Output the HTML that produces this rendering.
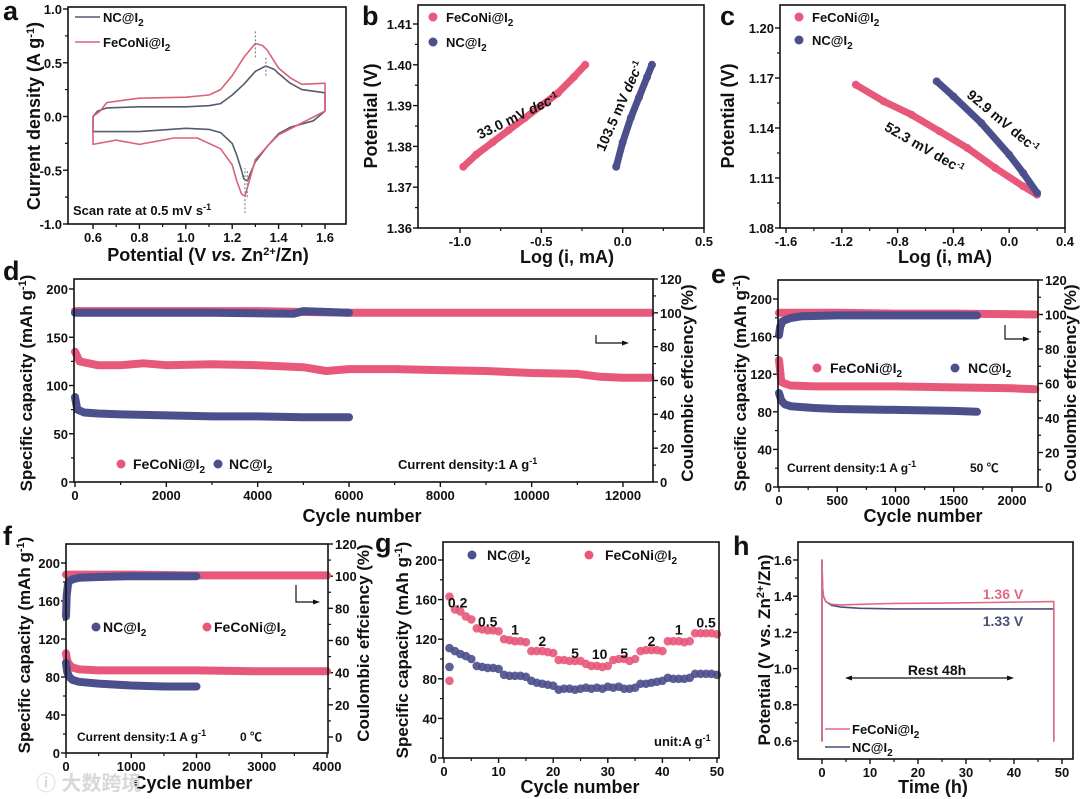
<!DOCTYPE html>
<html><head><meta charset="utf-8"><style>
body{margin:0;background:#fff;}
svg{display:block;font-family:"Liberation Sans","Noto Sans CJK SC",sans-serif;}
text{font-weight:bold;}
</style></head><body>
<svg id="fig" width="1080" height="799" viewBox="0 0 1080 799" xmlns="http://www.w3.org/2000/svg"></svg>
<script>
// ---------- data ----------
const aPotNC=[0.6,0.62,0.66,0.8,1.0,1.1,1.15,1.2,1.25,1.3,1.345,1.38,1.4,1.45,1.5,1.6,1.6,1.55,1.45,1.4,1.35,1.3,1.28,1.265,1.25,1.24,1.22,1.2,1.15,1.1,1.0,0.8,0.65,0.6,0.6];
const aCurNC=[0.0,0.05,0.08,0.09,0.09,0.10,0.12,0.20,0.30,0.42,0.47,0.44,0.40,0.31,0.25,0.22,0.05,-0.04,-0.10,-0.16,-0.28,-0.42,-0.52,-0.60,-0.58,-0.50,-0.36,-0.25,-0.15,-0.12,-0.11,-0.14,-0.14,-0.14,0.0];
const aPotFe=[0.6,0.6,0.63,0.66,0.8,1.0,1.1,1.15,1.2,1.25,1.3,1.33,1.35,1.4,1.45,1.5,1.6,1.6,1.5,1.4,1.35,1.3,1.28,1.255,1.24,1.22,1.2,1.15,1.05,0.95,0.8,0.7,0.6];
const aCurFe=[-0.26,0.0,0.05,0.13,0.17,0.18,0.20,0.25,0.38,0.55,0.68,0.66,0.62,0.45,0.36,0.30,0.31,0.05,-0.06,-0.17,-0.28,-0.40,-0.55,-0.74,-0.72,-0.60,-0.45,-0.30,-0.20,-0.20,-0.26,-0.22,-0.26];
const bLogFe=[-0.98,-0.9,-0.8,-0.7,-0.6,-0.5,-0.4,-0.3,-0.23];
const bPotFe=[1.375,1.378,1.381,1.384,1.387,1.390,1.393,1.397,1.400];
const bLogNC=[-0.04,0.0,0.05,0.1,0.15,0.18];
const bPotNC=[1.375,1.381,1.387,1.392,1.397,1.400];
const cLogFe=[-1.1,-0.9,-0.7,-0.5,-0.3,-0.1,0.1,0.2];
const cPotFe=[1.166,1.156,1.148,1.138,1.128,1.116,1.105,1.100];
const cLogNC=[-0.52,-0.4,-0.2,0.0,0.1,0.2];
const cPotNC=[1.168,1.159,1.143,1.124,1.113,1.101];
const dCycFe=[0,100,500,1000,1500,2000,3000,4000,5000,5500,6000,7000,8000,9000,10000,11000,11500,12000,12600];
const dCapFe=[135,125,121,121,123,121,122,121,119,115,117,117,116,115,113,112,109,108,108];
const dCycNC=[0,50,200,500,1000,2000,3000,4000,5000,6000];
const dCapNC=[88,75,72,71,70,69,68,68,67,67];
const dCeCycFe=[0,2000,4000,6000,8000,10000,12600];
const dCeFe=[101,101,101,100,100,100,100];
const dCeCycNC=[0,1000,3000,4800,5000,6000];
const dCeNC=[100,100,100,99.5,101,100];
const eCycFe=[0,20,50,100,300,500,1000,1500,2000,2200];
const eCapFe=[135,112,110,108,107,107,107,106,105,104];
const eCycNC=[0,20,50,100,300,500,1000,1500,1700];
const eCapNC=[100,92,88,86,84,83,82,81,80];
const eCeCycFe=[0,500,1000,1500,2200];
const eCeFe=[101,101,100.5,100.5,100];
const eCeCycNC=[0,10,30,60,100,200,500,1000,1700];
const eCeNC=[88,93,96,97,98,99,99.5,99.5,99.5];
const fCycFe=[0,20,50,100,200,500,1000,2000,3000,4000];
const fCapFe=[105,97,93,90,88,87,87,87,86,86];
const fCycNC=[0,20,50,100,200,500,1000,1500,2000];
const fCapNC=[95,85,80,77,75,73,71,70,70];
const fCeCycFe=[0,1000,2000,3000,4000];
const fCeFe=[101,101,100.5,100.5,100.5];
const fCeCycNC=[0,10,30,50,100,200,500,1000,2000];
const fCeNC=[75,88,95,97,98,99,99.5,100,100];
const gCycles=[1,2,3,4,5,6,7,8,9,10,11,12,13,14,15,16,17,18,19,20,21,22,23,24,25,26,27,28,29,30,31,32,33,34,35,36,37,38,39,40,41,42,43,44,45,46,47,48,49,50];
const gFe=[163,150,148,143,140,131,130,129,129,128,120,119,118,118,117,108,108,108,107,106,99,99,98,98,98,95,93,93,92,93,99,100,100,98,100,108,109,109,109,108,118,118,118,117,118,126,126,126,126,125];
const gNC=[111,108,105,103,100,93,92,91,91,90,84,83,83,83,82,78,76,75,74,73,69,70,70,69,70,71,70,71,70,72,71,72,70,70,71,75,75,76,77,78,81,80,80,80,81,85,85,85,85,84];
const gFirstFe=[78];
const gFirstNC=[92];
const gRateLabels=["0.2","0.5","1","2","5","10","5","2","1","0.5"];
const gRateX=[2.5,8,13,18,24,28.5,33,38,43,48];
const gRateY=[152,133,125,113,101,100,101,113,125,132];
const hTime=[0,0,0.1,0.3,0.8,2,4,8,15,25,35,48,48.3,48.3];
const hFe=[0.6,1.6,1.45,1.40,1.37,1.355,1.352,1.355,1.36,1.362,1.365,1.37,1.37,0.6];
const hNC=[0.6,1.6,1.45,1.40,1.37,1.35,1.34,1.333,1.33,1.33,1.33,1.33,1.33,0.6];

// ---------- helpers ----------
const NS='http://www.w3.org/2000/svg';
const svg=document.getElementById('fig');
const PINK='#e8587a', BLUE='#4b4f8c';
const TF=13;
function el(tag,attrs,name){
  const e=document.createElementNS(NS,tag);
  for(const k in attrs) e.setAttribute(k,attrs[k]);
  
  
  svg.appendChild(e);
  return e;
}
function txt(x,y,html,size,name,anchor,rot,fill){
  const a={x:x,y:y,'font-size':size,'text-anchor':anchor||'start',fill:fill||'#111'};
  if(rot) a.transform='rotate('+rot+' '+x+' '+y+')';
  const t=el('text',a,name);
  t.innerHTML=html;
  return t;
}
function lin(d0,d1,r0,r1){return v=>r0+(v-d0)/(d1-d0)*(r1-r0);}
function frame(p,fr){
  el('rect',{x:fr[0],y:fr[1],width:fr[2]-fr[0],height:fr[3]-fr[1],fill:'none',stroke:'#111','stroke-width':1.6},p+'-frame');
}
function xTicks(p,fr,sx,vals,labels){
  vals.forEach((v,i)=>{
    const x=sx(v);
    el('line',{x1:x,x2:x,y1:fr[3],y2:fr[3]+5,stroke:'#111','stroke-width':1.4},p+'-x-tick');
    txt(x,fr[3]+18,labels[i],TF,p+'-x-tick-label','middle');
    if(i<vals.length-1){const xm=sx((v+vals[i+1])/2);
      el('line',{x1:xm,x2:xm,y1:fr[3],y2:fr[3]+3,stroke:'#111','stroke-width':1.2},p+'-x-minor-tick');}
  });
}
function yTicks(p,fr,sy,vals,labels,right){
  vals.forEach((v,i)=>{
    const y=sy(v);
    const x0=right?fr[2]:fr[0], d=right?5:-5;
    el('line',{x1:x0,x2:x0+d,y1:y,y2:y,stroke:'#111','stroke-width':1.4},p+'-y-tick');
    txt(right?x0+7:x0-6,y+5,labels[i],TF,p+(right?'-y2-tick-label':'-y-tick-label'),right?'start':'end');
    if(i<vals.length-1){const ym=sy((v+vals[i+1])/2);
      el('line',{x1:x0,x2:x0+d*0.6,y1:ym,y2:ym,stroke:'#111','stroke-width':1.2},p+'-y-minor-tick');}
  });
}
function poly(xs,ys,sx,sy,color,w,name){
  const pts=xs.map((x,i)=>sx(x).toFixed(1)+','+sy(ys[i]).toFixed(1)).join(' ');
  return el('polyline',{points:pts,fill:'none',stroke:color,'stroke-width':w,'stroke-linejoin':'round','stroke-linecap':'round'},name);
}
function dots(xs,ys,sx,sy,color,r,name){
  xs.forEach((x,i)=>{el('circle',{cx:sx(x),cy:sy(ys[i]),r:r,fill:color,opacity:0.9},name);});
}
const SUB2='<tspan dy="4" font-size="10">2</tspan>';
const lab=(n)=>n+'@I'+SUB2;
function arrowR(p,x,y1,y2,x2){
  el('polyline',{points:x+','+y1+' '+x+','+y2+' '+x2+','+y2,fill:'none',stroke:'#111','stroke-width':1.2},p+'-axis-arrow');
  el('polygon',{points:(x2+4)+','+y2+' '+(x2-3)+','+(y2-2.5)+' '+(x2-3)+','+(y2+2.5),fill:'#111'},p+'-axis-arrowhead');
}
function range(a,b,s){const r=[];for(let v=a;v<=b+1e-9;v+=s)r.push(+v.toFixed(4));return r;}

// ---------- panel a ----------
(function(){
  const fr=[68,7,346,224], sx=lin(0.6,1.6,93,325), sy=lin(-1,1,224,9);
  const xv=range(0.6,1.6,0.2); xTicks('a',fr,sx,xv,xv.map(v=>v.toFixed(1)));
  const yv=[-1,-0.5,0,0.5,1]; yTicks('a',fr,sy,yv,yv.map(v=>v.toFixed(1)));
  poly(aPotNC,aCurNC,sx,sy,'#555b70',1.6,'nc-cv-curve');
  poly(aPotFe,aCurFe,sx,sy,'#d9627a',1.6,'feconi-cv-curve');
  [[1.30,0.55,0.80],[1.345,0.38,0.55],[1.255,-0.9,-0.48],[1.265,-0.75,-0.5]].forEach(d=>{
    el('line',{x1:sx(d[0]),x2:sx(d[0]),y1:sy(d[1]),y2:sy(d[2]),stroke:'#888','stroke-width':1.2,'stroke-dasharray':'2,2'},'peak-marker');
  });
  frame('a',fr);
  el('line',{x1:75,x2:100,y1:17,y2:17,stroke:'#555b70','stroke-width':1.6},'legend-nc-line');
  txt(103,22,lab('NC'),13,'legend-nc-label');
  el('line',{x1:75,x2:100,y1:42,y2:42,stroke:'#d9627a','stroke-width':1.6},'legend-feconi-line');
  txt(103,47,lab('FeCoNi'),13,'legend-feconi-label');
  txt(73,215,'Scan rate at 0.5 mV s<tspan dy="-5" font-size="9">-1</tspan>',13,'scan-rate-note');
  txt(3,20,'a',27,'panel-label-a');
  txt(40,116,'Current density (A g<tspan dy="-6" font-size="11">-1</tspan><tspan dy="6">)</tspan>',18,'a-y-axis-title','middle',-90);
  txt(208,261,'Potential (V <tspan font-style="italic">vs.</tspan> Zn<tspan dy="-6" font-size="11">2+</tspan><tspan dy="6">/Zn)</tspan>',18,'a-x-axis-title','middle');
})();

// ---------- panel b ----------
(function(){
  const fr=[418,5,704,228], sx=lin(-1,0.5,460,704), sy=lin(1.36,1.41,228,24);
  const xv=[-1,-0.5,0,0.5]; xTicks('b',fr,sx,xv,xv.map(v=>v.toFixed(1)));
  const yv=range(1.36,1.41,0.01); yTicks('b',fr,sy,yv,yv.map(v=>v.toFixed(2)));
  poly(bLogFe,bPotFe,sx,sy,PINK,7,'feconi-tafel-band');
  dots(bLogFe,bPotFe,sx,sy,PINK,4,'feconi-tafel-point');
  poly(bLogNC,bPotNC,sx,sy,BLUE,7,'nc-tafel-band');
  dots(bLogNC,bPotNC,sx,sy,BLUE,4,'nc-tafel-point');
  frame('b',fr);
  el('circle',{cx:433,cy:17,r:4.5,fill:PINK},'legend-feconi-marker');
  txt(446,22,lab('FeCoNi'),13,'legend-feconi-label');
  el('circle',{cx:433,cy:42,r:4.5,fill:BLUE},'legend-nc-marker');
  txt(446,47,lab('NC'),13,'legend-nc-label');
  txt(520,120,'33.0 mV <tspan font-style="italic">dec</tspan><tspan dy="-5" font-size="9">-1</tspan>',14,'feconi-slope-label','middle',-26);
  txt(624,108,'103.5 mV <tspan font-style="italic">dec</tspan><tspan dy="-5" font-size="9">-1</tspan>',14,'nc-slope-label','middle',-66);
  txt(362,25,'b',27,'panel-label-b');
  txt(377,116,'Potential (V)',18,'b-y-axis-title','middle',-90);
  txt(567,263,'Log (i, mA)',18,'b-x-axis-title','middle');
})();

// ---------- panel c ----------
(function(){
  const fr=[780,5,1065,228], sx=lin(-1.6,0.4,786,1065), sy=lin(1.08,1.20,228,28);
  const xv=range(-1.6,0.4,0.4); xTicks('c',fr,sx,xv,xv.map(v=>v.toFixed(1)));
  const yv=range(1.08,1.20,0.03); yTicks('c',fr,sy,yv,yv.map(v=>v.toFixed(2)));
  poly(cLogFe,cPotFe,sx,sy,PINK,7,'feconi-tafel-band');
  dots(cLogFe,cPotFe,sx,sy,PINK,4,'feconi-tafel-point');
  poly(cLogNC,cPotNC,sx,sy,BLUE,7,'nc-tafel-band');
  dots(cLogNC,cPotNC,sx,sy,BLUE,4,'nc-tafel-point');
  frame('c',fr);
  el('circle',{cx:799,cy:17,r:4.5,fill:PINK},'legend-feconi-marker');
  txt(812,22,lab('FeCoNi'),13,'legend-feconi-label');
  el('circle',{cx:799,cy:40,r:4.5,fill:BLUE},'legend-nc-marker');
  txt(812,45,lab('NC'),13,'legend-nc-label');
  txt(1000,125,'92.9 mV dec<tspan dy="-5" font-size="9">-1</tspan>',14,'nc-slope-label','middle',40);
  txt(922,152,'52.3 mV dec<tspan dy="-5" font-size="9">-1</tspan>',14,'feconi-slope-label','middle',30);
  txt(720,25,'c',27,'panel-label-c');
  txt(734,116,'Potential (V)',18,'c-y-axis-title','middle',-90);
  txt(945,263,'Log (i, mA)',18,'c-x-axis-title','middle');
})();

// ---------- cycling panels ----------
function cycPanel(p,fr,sx,syL,syR,xv,yLv,yRv,fe,nc){
  xTicks(p,fr,sx,xv,xv.map(String));
  yTicks(p,fr,syL,yLv,yLv.map(String),false);
  yTicks(p,fr,syR,yRv,yRv.map(String),true);
  poly(fe.ceX,fe.ce,sx,syR,PINK,8,'feconi-ce-band');
  poly(nc.ceX,nc.ce,sx,syR,BLUE,8,'nc-ce-band');
  poly(fe.capX,fe.cap,sx,syL,PINK,8,'feconi-capacity-band');
  poly(nc.capX,nc.cap,sx,syL,BLUE,8,'nc-capacity-band');
  frame(p,fr);
}
// d
(function(){
  const fr=[74,279,653,482];
  cycPanel('d',fr,lin(0,12000,75,623),lin(0,200,482,289),lin(0,120,482,279),
    range(0,12000,2000),range(0,200,50),range(0,120,20),
    {ceX:dCeCycFe,ce:dCeFe,capX:dCycFe,cap:dCapFe},{ceX:dCeCycNC,ce:dCeNC,capX:dCycNC,cap:dCapNC});
  el('circle',{cx:121,cy:464,r:4.5,fill:PINK},'legend-feconi-marker');
  txt(133,469,lab('FeCoNi'),14,'legend-feconi-label');
  el('circle',{cx:218,cy:464,r:4.5,fill:BLUE},'legend-nc-marker');
  txt(229,469,lab('NC'),14,'legend-nc-label');
  txt(398,469,'Current density:1 A g<tspan dy="-5" font-size="9">-1</tspan>',13,'current-density-note');
  arrowR('d',596,335,343,625);
  txt(3,280,'d',27,'panel-label-d');
  txt(32,383,'Specific capacity (mAh g<tspan dy="-6" font-size="11">-1</tspan><tspan dy="6">)</tspan>',17,'d-y-axis-title','middle',-90);
  txt(693,383,'Coulombic effciency (%)',17,'d-y2-axis-title','middle',-90);
  txt(362,522,'Cycle number',18,'d-x-axis-title','middle');
})();
// e
(function(){
  const fr=[778,280,1038,487];
  cycPanel('e',fr,lin(0,2000,779,1012),lin(0,200,487,299),lin(0,120,487,280),
    range(0,2000,500),range(0,200,40),range(0,120,20),
    {ceX:eCeCycFe,ce:eCeFe,capX:eCycFe,cap:eCapFe},{ceX:eCeCycNC,ce:eCeNC,capX:eCycNC,cap:eCapNC});
  el('circle',{cx:817,cy:368,r:4.5,fill:PINK},'legend-feconi-marker');
  txt(830,373,lab('FeCoNi'),14,'legend-feconi-label');
  el('circle',{cx:955,cy:368,r:4.5,fill:BLUE},'legend-nc-marker');
  txt(968,373,lab('NC'),14,'legend-nc-label');
  txt(787,472,'Current density:1 A g<tspan dy="-5" font-size="9">-1</tspan>',12,'current-density-note');
  txt(970,472,'50 ℃',12,'temperature-note');
  arrowR('e',1005,325,339,1026);
  txt(711,283,'e',27,'panel-label-e');
  txt(746,383,'Specific capacity (mAh g<tspan dy="-6" font-size="11">-1</tspan><tspan dy="6">)</tspan>',17,'e-y-axis-title','middle',-90);
  txt(1076,383,'Coulombic effciency (%)',17,'e-y2-axis-title','middle',-90);
  txt(923,522,'Cycle number',18,'e-x-axis-title','middle');
})();
// f
(function(){
  const fr=[66,544,328,753];
  cycPanel('f',fr,lin(0,4000,66,327),lin(0,200,753,563),lin(0,120,737,544),
    range(0,4000,1000),range(0,200,40),range(0,120,20),
    {ceX:fCeCycFe,ce:fCeFe,capX:fCycFe,cap:fCapFe},{ceX:fCeCycNC,ce:fCeNC,capX:fCycNC,cap:fCapNC});
  el('circle',{cx:96,cy:627,r:4.5,fill:BLUE},'legend-nc-marker');
  txt(103,632,lab('NC'),14,'legend-nc-label');
  el('circle',{cx:207,cy:627,r:4.5,fill:PINK},'legend-feconi-marker');
  txt(214,632,lab('FeCoNi'),14,'legend-feconi-label');
  txt(77,741,'Current density:1 A g<tspan dy="-5" font-size="9">-1</tspan>',12,'current-density-note');
  txt(240,741,'0 ℃',12,'temperature-note');
  arrowR('f',296,585,602,316);
  txt(3,545,'f',27,'panel-label-f');
  txt(30,645,'Specific capacity (mAh g<tspan dy="-6" font-size="11">-1</tspan><tspan dy="6">)</tspan>',17,'f-y-axis-title','middle',-90);
  txt(369,643,'Coulombic effciency (%)',17,'f-y2-axis-title','middle',-90);
  txt(193,789,'Cycle number',18,'f-x-axis-title','middle');
  txt(36,790,'ⓘ 大数跨境',20,'watermark','start',0,'#d8d8d8');
})();
// g
(function(){
  const fr=[443,542,719,758], sx=lin(0,50,444,717), sy=lin(0,200,758,560);
  const xv=range(0,50,10); xTicks('g',fr,sx,xv,xv.map(String));
  const yv=range(0,200,40); yTicks('g',fr,sy,yv,yv.map(String));
  dots(gCycles,gFe,sx,sy,PINK,4.3,'feconi-rate-point');
  dots([1],gFirstFe,sx,sy,PINK,4.3,'feconi-first-point');
  dots(gCycles,gNC,sx,sy,BLUE,4.3,'nc-rate-point');
  dots([1],gFirstNC,sx,sy,BLUE,4.3,'nc-first-point');
  gRateLabels.forEach((s,i)=>{txt(sx(gRateX[i]),sy(gRateY[i]),s,14,'rate-label','middle');});
  frame('g',fr);
  el('circle',{cx:472,cy:555,r:4.5,fill:BLUE},'legend-nc-marker');
  txt(487,560,lab('NC'),14,'legend-nc-label');
  el('circle',{cx:589,cy:555,r:4.5,fill:PINK},'legend-feconi-marker');
  txt(605,560,lab('FeCoNi'),14,'legend-feconi-label');
  txt(654,746,'unit:A g<tspan dy="-5" font-size="9">-1</tspan>',13,'unit-note');
  txt(375,552,'g',27,'panel-label-g');
  txt(408,650,'Specific capacity (mAh g<tspan dy="-6" font-size="11">-1</tspan><tspan dy="6">)</tspan>',17,'g-y-axis-title','middle',-90);
  txt(580,793,'Cycle number',18,'g-x-axis-title','middle');
})();
// h
(function(){
  const fr=[798,542,1073,759], sx=lin(0,50,822,1062), sy=lin(0.6,1.6,741,560);
  const xv=range(0,50,10); xTicks('h',fr,sx,xv,xv.map(String));
  const yv=range(0.6,1.6,0.2); yTicks('h',fr,sy,yv,yv.map(v=>v.toFixed(1)));
  poly(hTime,hNC,sx,sy,'#4b4f78',1.6,'nc-voltage-line');
  poly(hTime,hFe,sx,sy,'#e06a82',1.6,'feconi-voltage-line');
  frame('h',fr);
  txt(1003,599,'1.36 V',14,'feconi-voltage-label','middle',0,'#e06a82');
  txt(1003,626,'1.33 V',14,'nc-voltage-label','middle',0,'#4b4f78');
  txt(937,675,'Rest 48h',14,'rest-label','middle');
  el('line',{x1:849,x2:1010,y1:678,y2:678,stroke:'#111','stroke-width':1.2},'rest-arrow');
  el('polygon',{points:'845,678 852,675.5 852,680.5',fill:'#111'},'rest-arrowhead-left');
  el('polygon',{points:'1014,678 1007,675.5 1007,680.5',fill:'#111'},'rest-arrowhead-right');
  el('line',{x1:825,x2:850,y1:729,y2:729,stroke:'#e06a82','stroke-width':1.6},'legend-feconi-line');
  txt(852,734,lab('FeCoNi'),13,'legend-feconi-label');
  el('line',{x1:825,x2:850,y1:747,y2:747,stroke:'#4b4f78','stroke-width':1.6},'legend-nc-line');
  txt(852,752,lab('NC'),13,'legend-nc-label');
  txt(733,555,'h',27,'panel-label-h');
  txt(770,650,'Potential (V vs. Zn<tspan dy="-6" font-size="11">2+</tspan><tspan dy="6">/Zn)</tspan>',17,'h-y-axis-title','middle',-90);
  txt(933,793,'Time (h)',18,'h-x-axis-title','middle');
})();
</script>
</body></html>
